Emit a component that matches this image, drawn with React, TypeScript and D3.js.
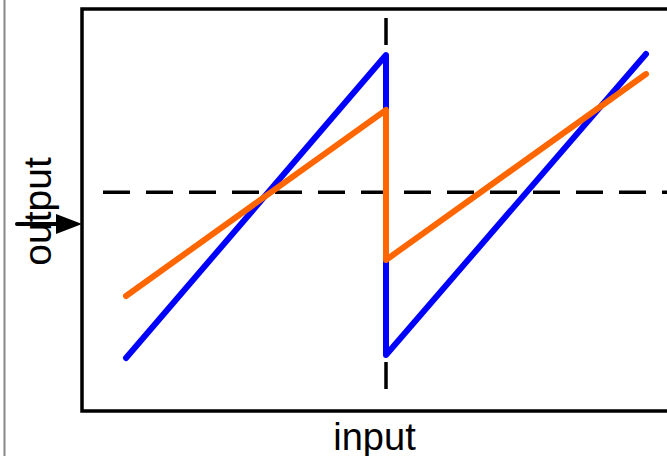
import React from "react";
import * as d3 from "d3";

// input values (x) and outputs for the two series
const inputs: number[] = [-1, 0, 0, 1];
const blueOutput: number[] = [-1.0, 0.993, -0.98, 1.0];
const orangeOutput: number[] = [-0.592, 0.632, -0.355, 0.868];
const zeroLevel: number[] = [0.09];
const xLabel = "input";
const yLabel = "output";

const W = 667;
const H = 456;

export default function App() {
  const x = d3.scaleLinear().domain([-1, 1]).range([126, 646]);
  const y = d3.scaleLinear().domain([-1, 1]).range([358, 54]);

  const line = d3
    .line<[number, number]>()
    .x((d) => x(d[0]))
    .y((d) => y(d[1]));

  const blue = line(inputs.map((v, i) => [v, blueOutput[i]] as [number, number])) || "";
  const orange = line(inputs.map((v, i) => [v, orangeOutput[i]] as [number, number])) || "";

  const frameLeft = 82;
  const frameTop = 9;
  const frameBottom = 411;
  const frameRight = 700;

  return (
    <svg
      width={W}
      height={H}
      style={{ position: "fixed", left: 0, top: 0, background: "#fff" }}
      fontFamily="'Liberation Sans', Arial, sans-serif"
    >
      <rect x={0} y={0} width={W} height={H} fill="#fff" />
      <line x1={4.5} y1={0} x2={4.5} y2={H} stroke="#888" strokeWidth={2} />
      {/* frame */}
      <path
        d={`M${frameRight},${frameTop}H${frameLeft}V${frameBottom}H${frameRight}`}
        fill="none"
        stroke="#000"
        strokeWidth={3.5}
      />
      {/* dashed reference lines */}
      <line
        x1={x(0)}
        x2={x(0)}
        y1={18}
        y2={398}
        stroke="#000"
        strokeWidth={3.5}
        strokeDasharray="27,16"
      />
      <line
        x1={103}
        x2={frameRight}
        y1={y(zeroLevel[0])}
        y2={y(zeroLevel[0])}
        stroke="#000"
        strokeWidth={3.5}
        strokeDasharray="27,16"
      />
      <path d={blue} fill="none" stroke="#0000ff" strokeWidth={6} strokeLinecap="round" strokeLinejoin="round" />
      <path d={orange} fill="none" stroke="#ff6600" strokeWidth={6} strokeLinecap="round" strokeLinejoin="round" />
      {/* arrow */}
      <line x1={17} x2={60} y1={224} y2={224} stroke="#000" strokeWidth={4} strokeLinecap="round" />
      <path d="M56,214L82,224L56,234Z" fill="#000" />
      {/* labels */}
      <text x={374.5} y={450} fontSize={38} textAnchor="middle" fill="#000">
        {xLabel}
      </text>
      <text
        transform={`translate(51,211.5) rotate(-90)`}
        fontSize={39}
        textAnchor="middle"
        fill="#000"
      >
        {yLabel}
      </text>
    </svg>
  );
}
